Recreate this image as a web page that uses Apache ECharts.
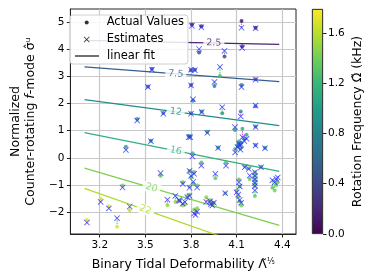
<!DOCTYPE html>
<html><head><meta charset="utf-8">
<script src="https://cdn.jsdelivr.net/npm/echarts@6/dist/echarts.min.js"></script>
<style>html,body{margin:0;padding:0;background:#fff}#c{width:374px;height:280px}</style>
</head><body><div id="c"></div>
<script>
// ---- data ----
const lambdaVals = [3.806,3.868,4.132,4.224,4.136,3.853,4.02,3.99,3.80,3.825,3.80,3.954,4.132,4.224,3.543,3.517,3.618,3.446,3.813,3.80,3.87,4.005,4.127,4.224,3.536,3.372,3.600,3.350,3.206,3.26,3.397,3.314,3.116,3.645,3.697,3.725,3.746,3.785,3.795,3.907,4.089,4.138,4.15,4.165,4.13,4.224,4.224,4.286,3.978,3.81,3.868,4.03,4.09,4.105,4.115,4.12,4.125,4.153,4.179,4.26,4.115,4.12,4.11,4.12,4.13,4.186,4.22,4.22,4.22,4.22,4.22,4.22,4.335,4.35,4.36,4.37,3.79,3.80,3.815,3.79,3.82,3.84,3.96,4.025,3.90,3.925,3.93,3.94,3.95,3.82,3.83,3.84,3.72,3.745,3.76,3.775,3.79,4.10];
const actualVals = [4.90,4.84,5.03,4.78,4.10,3.87,3.72,3.01,3.22,3.24,2.68,2.64,2.68,2.89,3.27,2.62,1.65,1.43,2.10,1.64,1.70,1.64,1.70,1.90,0.63,0.41,-0.66,-1.02,-1.50,-1.78,-1.93,-2.53,-2.28,-1.74,-1.62,-1.58,-0.90,0.80,0.78,0.96,1.02,1.07,0.70,0.85,0.55,1.15,0.47,0.37,0.38,0.17,-0.17,-0.17,0.32,0.45,0.60,0.55,0.35,-0.30,-0.38,-0.33,-0.80,-1.05,-1.45,-1.60,-1.75,-0.78,-0.53,-0.66,-0.80,-0.92,-1.04,-1.40,-1.10,-1.20,-1.00,-0.90,-0.48,-0.72,-0.95,-1.05,-0.52,-1.02,-0.75,-1.30,-1.45,-1.55,-1.60,-1.72,-1.65,-1.90,-1.95,-1.85,-1.58,-1.75,-1.72,-1.40,-1.35,-1.20];
const estimateVals = [4.85,4.80,4.78,4.76,4.04,4.00,3.93,3.34,3.24,3.22,2.66,2.79,2.60,2.87,3.24,2.60,1.62,1.37,2.15,1.62,1.68,1.86,1.52,1.92,0.61,0.29,-0.56,-1.09,-1.62,-1.86,-1.79,-2.22,-2.38,-1.54,-1.40,-1.58,-0.96,0.76,0.76,0.92,1.13,0.76,0.62,0.70,0.48,1.13,0.45,0.35,0.36,0.05,-0.29,-0.29,0.20,0.40,0.52,0.45,0.30,-0.35,-0.41,-0.35,-0.90,-1.05,-1.35,-1.55,-1.65,-0.65,-0.53,-0.66,-0.79,-0.92,-1.04,-1.20,-0.82,-0.90,-0.77,-0.72,-0.48,-0.66,-0.88,-1.10,-0.59,-1.09,-0.59,-1.30,-1.62,-1.60,-1.70,-1.75,-1.65,-2.05,-2.10,-1.98,-1.55,-1.68,-1.62,-1.45,-1.40,-1.27];
const omegaVals = [0.10,0.12,0.08,0.12,0.18,0.35,0.35,1.25,0.50,0.50,0.55,0.75,0.75,0.55,0.50,0.60,0.85,0.95,0.85,0.85,0.85,0.90,0.85,0.80,1.00,1.05,1.30,1.40,1.70,1.70,1.65,1.70,1.75,1.50,1.50,1.45,1.30,1.00,1.00,1.05,1.00,1.15,1.20,1.15,1.20,0.95,1.05,1.05,1.10,1.20,1.25,1.25,1.20,1.20,1.15,1.20,1.20,1.30,1.30,1.25,1.30,1.30,1.35,1.35,1.40,1.35,1.30,1.30,1.30,1.30,1.30,1.35,1.35,1.40,1.35,1.35,1.30,1.30,1.30,1.35,1.30,1.35,1.35,1.40,1.45,1.45,1.45,1.45,1.45,1.45,1.45,1.45,1.45,1.50,1.50,1.45,1.45,1.40];

const fitLabels = [2.5, 7.5, 12, 16, 20, 22];
const fitXRange = [3.1, 4.38];
const fitStartY = [4.32, 3.34, 2.14, 0.93, -0.38, -1.12];
const fitEndY = [4.17, 2.80, 1.18, -0.50, -2.48, -3.65];
const fitLabelX = [3.95, 3.70, 3.70, 3.70, 3.54, 3.50];

const xTicks = [3.2, 3.5, 3.8, 4.1, 4.4];
const yTicks = [-2, -1, 0, 1, 2, 3, 4, 5];
const cbTicks = [0, 0.4, 0.8, 1.2, 1.6];
const cbMax = 1.79;

// ---- helpers ----
const FONT = 'DejaVu Sans';
const viridisStops = ['#440154','#482878','#3e4989','#31688e','#26828e','#1f9e89','#35b779','#6ece58','#b5de2b','#fde725'];
function hex2rgb(h){return [parseInt(h.slice(1,3),16),parseInt(h.slice(3,5),16),parseInt(h.slice(5,7),16)];}
function viridis(t){
  t = Math.max(0, Math.min(1, t));
  const n = viridisStops.length - 1;
  const i = Math.min(n - 1, Math.floor(t * n));
  const f = t * n - i;
  const a = hex2rgb(viridisStops[i]), b = hex2rgb(viridisStops[i + 1]);
  const c = a.map((v, k) => Math.round(v + (b[k] - v) * f));
  return 'rgb(' + c.join(',') + ')';
}
const fitColor = fitLabels.map(l => viridis(l / 25));
const XS = 'path://M0,1L1,0L5,4L9,0L10,1L6,5L10,9L9,10L5,6L1,10L0,9L4,5Z';
const LINEICON = 'path://M0,0L24,0L24,1.4L0,1.4Z';

const dotData = lambdaVals.map((x, i) => [x, actualVals[i], omegaVals[i]]);
const estData = lambdaVals.map((x, i) => [x, estimateVals[i]]);
const segData = lambdaVals.map((x, i) => [x, actualVals[i], estimateVals[i]]);

function lineYAt(i, x){
  const t = (x - fitXRange[0]) / (fitXRange[1] - fitXRange[0]);
  return fitStartY[i] + (fitEndY[i] - fitStartY[i]) * t;
}

const series = [];
fitLabels.forEach((l, i) => {
  series.push({
    type: 'line', name: 'fit' + l, xAxisIndex: 0, yAxisIndex: 0, z: 2,
    symbol: 'none', silent: true,
    lineStyle: { color: fitColor[i], width: 1.3 },
    data: [[fitXRange[0], fitStartY[i]], [fitXRange[1], fitEndY[i]]]
  });
});
series.push({
  type: 'scatter', name: 'fitlabels', xAxisIndex: 0, yAxisIndex: 0, z: 3,
  symbolSize: 0, silent: true,
  data: fitLabels.map((l, i) => ({
    value: [fitLabelX[i], lineYAt(i, fitLabelX[i])],
    label: { show: true, position: 'inside', formatter: String(l), color: fitColor[i],
      fontFamily: FONT, fontSize: 9.5, backgroundColor: '#fff', padding: [0, 3], rotate: 0 }
  }))
});
series.push({
  type: 'custom', name: 'segments', xAxisIndex: 0, yAxisIndex: 0, z: 4, silent: true,
  encode: { x: 0, y: [1, 2] },
  data: segData,
  renderItem: function (params, api) {
    const x = api.value(0), a = api.value(1), e = api.value(2);
    const p1 = api.coord([x, a]), p2 = api.coord([x, e]);
    return { type: 'line', shape: { x1: p1[0], y1: p1[1], x2: p2[0], y2: p2[1] },
      style: { stroke: a > e ? '#e03ce0' : '#4cc04c', lineWidth: 1, lineDash: [1.5, 1] } };
  }
});
series.push({
  type: 'scatter', name: 'Actual Values', xAxisIndex: 0, yAxisIndex: 0, z: 5,
  symbol: 'circle', symbolSize: 4, itemStyle: { color: '#000' },
  data: dotData
});
series.push({
  type: 'scatter', name: 'Estimates', xAxisIndex: 0, yAxisIndex: 0, z: 6,
  symbol: XS, symbolSize: 6, itemStyle: { color: '#2a2aff' },
  data: estData
});
series.push({
  type: 'scatter', name: 'linear fit', xAxisIndex: 0, yAxisIndex: 0,
  symbol: LINEICON, itemStyle: { color: '#000' }, data: []
});
series.push({
  type: 'bar', name: 'colorbar', xAxisIndex: 1, yAxisIndex: 1, barWidth: '100%', silent: true,
  itemStyle: { borderColor: '#333', borderWidth: 0.8,
    color: { type: 'linear', x: 0, y: 1, x2: 0, y2: 0,
      colorStops: viridisStops.map((c, k) => ({ offset: k / (viridisStops.length - 1), color: c })) } },
  data: [cbMax]
});

const minus = v => (v < 0 ? '\u2212' : '') + Math.abs(v);
const legendText = (pl) => ({ fontFamily: FONT, fontSize: 11.5, color: '#000', padding: [0, 0, 0, pl] });

const option = {
  animation: false,
  backgroundColor: '#fff',
  grid: [
    { left: 65, top: 9, width: 231, height: 225, show: true, borderColor: '#222', borderWidth: 1, backgroundColor: 'transparent' },
    { left: 312, top: 9, width: 11, height: 225 }
  ],
  xAxis: [
    { type: 'value', gridIndex: 0, min: 3.007, max: 4.49,
      name: '{a|Binary Tidal Deformability \u039B\u0303}{b|\u2155}', nameLocation: 'middle', nameGap: 24,
      nameTextStyle: { fontFamily: FONT, fontSize: 12.5, color: '#000',
        rich: { a: { fontFamily: FONT, fontSize: 12.5, color: '#000' }, b: { fontFamily: FONT, fontSize: 8, color: '#000', verticalAlign: 'top' } } },
      axisLine: { show: true, onZero: false, lineStyle: { color: '#222', width: 1 } },
      axisTick: { show: true, inside: false, length: 3.5, customValues: xTicks, lineStyle: { color: '#222' } },
      axisLabel: { customValues: xTicks, formatter: v => v.toFixed(1), fontFamily: FONT, fontSize: 10.5, color: '#000', margin: 6 },
      splitLine: { show: true, lineStyle: { color: '#c8c8c8', width: 1.2 } }
    },
    { type: 'category', gridIndex: 1, data: ['c'], show: false }
  ],
  yAxis: [
    { type: 'value', gridIndex: 0, min: -2.8, max: 5.47,
      name: '{n|Normalized}\n{n|Counter-rotating }{i|f}{n|-mode \u03C3\u0302\u1D58}', nameLocation: 'middle', nameGap: 27, nameRotate: 90,
      nameTextStyle: { fontFamily: FONT, fontSize: 12.5, color: '#000', lineHeight: 15,
        rich: { n: { fontFamily: FONT, fontSize: 12.5, color: '#000', lineHeight: 15 }, i: { fontFamily: FONT, fontSize: 12.5, fontStyle: 'italic', color: '#000', lineHeight: 15 } } },
      axisLine: { show: true, onZero: false, lineStyle: { color: '#222', width: 1 } },
      axisTick: { show: true, inside: false, length: 3.5, customValues: yTicks, lineStyle: { color: '#222' } },
      axisLabel: { customValues: yTicks, formatter: minus, fontFamily: FONT, fontSize: 10.5, color: '#000', margin: 6 },
      splitLine: { show: true, lineStyle: { color: '#c8c8c8', width: 1.2 } }
    },
    { type: 'value', gridIndex: 1, min: 0, max: cbMax, position: 'right',
      name: 'Rotation Frequency \u03A9\u0303 (kHz)', nameLocation: 'middle', nameGap: 28, nameRotate: 90,
      nameTextStyle: { fontFamily: FONT, fontSize: 12.5, color: '#000' },
      axisLine: { show: false },
      axisTick: { show: true, inside: false, length: 3.5, customValues: cbTicks, lineStyle: { color: '#222' } },
      axisLabel: { customValues: cbTicks, formatter: v => v.toFixed(1), fontFamily: FONT, fontSize: 10.5, color: '#000', margin: 5 },
      splitLine: { show: false }
    }
  ],
  visualMap: {
    type: 'continuous', show: false, min: 0, max: cbMax, dimension: 2,
    seriesIndex: fitLabels.length + 2,
    inRange: { color: viridisStops }
  },
  legend: [
    { data: [{ name: 'Actual Values', icon: 'circle', itemStyle: { color: '#000' } }],
      left: 70, top: 15, orient: 'vertical', align: 'left', itemWidth: 4, itemHeight: 4, z: 10,
      padding: [1.5, 4, 35.5, 14.7], backgroundColor: 'rgba(255,255,255,0.85)', borderColor: '#d0d0d0', borderWidth: 1, borderRadius: 3,
      textStyle: legendText(13), selectedMode: false },
    { data: [{ name: 'Estimates', icon: XS, itemStyle: { color: '#000' } }],
      left: 70, top: 33.5, orient: 'vertical', align: 'left', itemWidth: 6, itemHeight: 6, z: 11,
      padding: [0, 0, 0, 13.7], textStyle: legendText(12), selectedMode: false },
    { data: [{ name: 'linear fit', icon: LINEICON, itemStyle: { color: '#000' } }],
      left: 70, top: 50, orient: 'vertical', align: 'left', itemWidth: 24, itemHeight: 1.4, z: 11,
      padding: [0, 0, 0, 5], textStyle: legendText(3), selectedMode: false }
  ],
  series: series
};

const chart = echarts.init(document.getElementById('c'), null, { renderer: 'canvas' });
chart.setOption(option);
// rotate contour-style labels along their lines
const labelSeries = series[fitLabels.length];
labelSeries.data.forEach((d, i) => {
  const p1 = chart.convertToPixel({ gridIndex: 0 }, [fitXRange[0], fitStartY[i]]);
  const p2 = chart.convertToPixel({ gridIndex: 0 }, [fitXRange[1], fitEndY[i]]);
  d.label.rotate = -Math.atan2(p2[1] - p1[1], p2[0] - p1[0]) * 180 / Math.PI;
});
chart.setOption({ series: series });
</script></body></html>
